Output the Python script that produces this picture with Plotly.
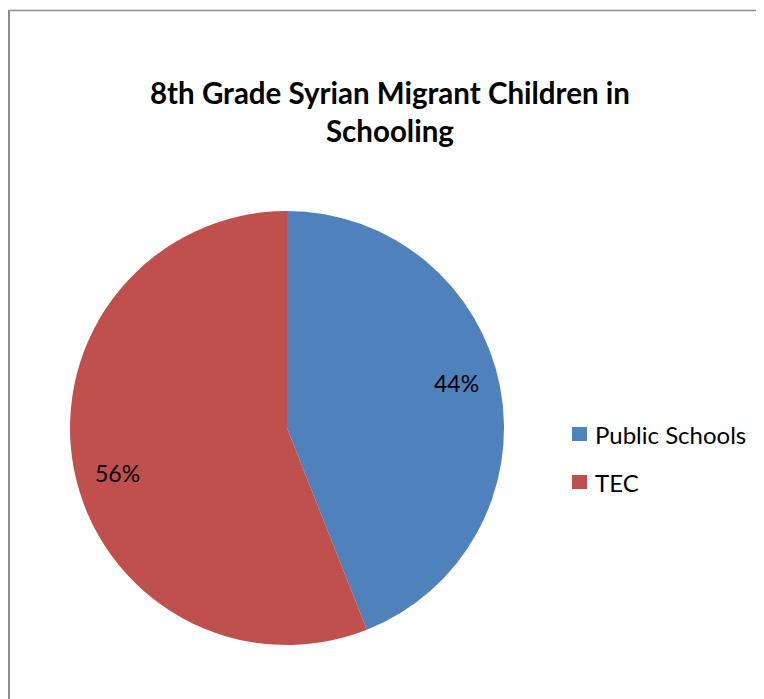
import plotly.graph_objects as go
import math

labels = ["Public Schools", "TEC"]
values = [44, 56]
colors = ["#4F81BD", "#C0504D"]
title_text = "<b>8th Grade Syrian Migrant Children in<br>Schooling</b>"

W, H = 764, 699
OFF = 8  # page body margin
cx, cy, r = 287 - OFF, 428 - OFF, 217
FONT = "Lato"

fig = go.Figure()
fig.add_trace(go.Pie(
    labels=labels, values=values, sort=False, direction="clockwise", rotation=0,
    marker=dict(colors=colors, line=dict(width=0)),
    textinfo="none", hoverinfo="label+percent",
    domain=dict(x=[(cx - r) / W, (cx + r) / W], y=[1 - (cy + r) / H, 1 - (cy - r) / H]),
    showlegend=False,
))

def px(x, y):
    return x / W, 1 - y / H

# percentage labels placed from data (cumulative angles)
total = sum(values)
cum = 0
annotations = []
for v in values:
    mid = (cum + v / 2) / total * 2 * math.pi - math.radians(4)
    cum += v
    rr = 0.81 * r
    x, y = px(cx + rr * math.sin(mid), cy - rr * math.cos(mid))
    annotations.append(dict(x=x, y=y, xref="paper", yref="paper",
                            xanchor="center", yanchor="middle",
                            text=f"{round(v / total * 100)}%", showarrow=False,
                            font=dict(family=FONT, size=23, color="black")))

tx, ty = px(390 - OFF, 112 - OFF)
annotations.append(dict(x=tx, y=ty, xref="paper", yref="paper",
                        xanchor="center", yanchor="middle",
                        text=title_text, showarrow=False,
                        font=dict(family=FONT, size=29.5, color="black")))

# legend (built from labels/colors)
shapes = []
leg_x, leg_y0, leg_dy = 572 - OFF, 434 - OFF, 48
for i, (lab, col) in enumerate(zip(labels, colors)):
    yc = leg_y0 + i * leg_dy
    x0, y0 = px(leg_x, yc - 7)
    x1, y1 = px(leg_x + 15, yc + 7)
    shapes.append(dict(type="rect", xref="paper", yref="paper", x0=x0, x1=x1, y0=y1, y1=y0,
                       fillcolor=col, line=dict(width=0)))
    ax, ay = px(leg_x + 21, yc)
    annotations.append(dict(x=ax, y=ay, xref="paper", yref="paper", xanchor="left", yanchor="middle",
                            text=lab, showarrow=False,
                            font=dict(family=FONT, size=24, color="black")))

# frame
shapes += [
    dict(type="line", xref="paper", yref="paper", x0=1 / W, x1=1 / W, y0=0, y1=1 - 2 / H,
         line=dict(color="#8c8c8c", width=2)),
    dict(type="line", xref="paper", yref="paper", x0=0, x1=1, y0=1 - 2.5 / H, y1=1 - 2.5 / H,
         line=dict(color="#8c8c8c", width=1.5)),
]

fig.update_layout(
    width=W, height=H,
    margin=dict(l=0, r=0, t=0, b=0),
    paper_bgcolor="white",
    annotations=annotations,
    shapes=shapes,
    showlegend=False,
)

fig.write_html("out.html")
